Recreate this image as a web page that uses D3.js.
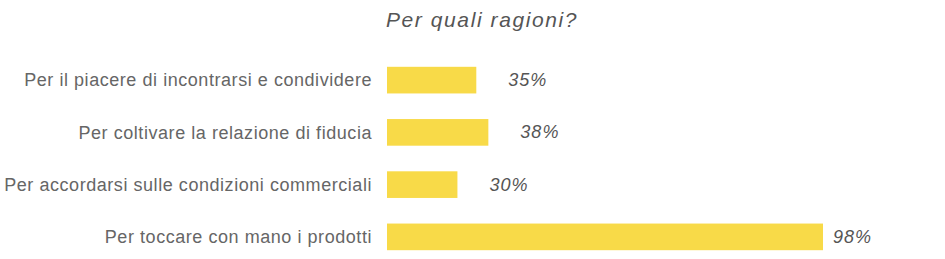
<!DOCTYPE html>
<html>
<head>
<meta charset="utf-8">
<script src="https://cdn.jsdelivr.net/npm/d3@7"></script>
<style>
	body { margin: 0; background: #fff; }
	text { font-family: "Liberation Sans", Arial, sans-serif; }
</style>
</head>
<body>
<div id="chart"></div>
<script>
var categories = [
	"Per il piacere di incontrarsi e condividere",
	"Per coltivare la relazione di fiducia",
	"Per accordarsi sulle condizioni commerciali",
	"Per toccare con mano i prodotti"
]
var values = [35, 38, 30, 98]
var valueLabels = ["35%", "38%", "30%", "98%"]
var title = "Per quali ragioni?"

var width = 945
var height = 259

var svg = d3.select("#chart")
	.append("svg")
	.attr("width", width)
	.attr("height", height)

// bars in the original are not drawn to a linear scale
var x = d3.scalePow()
	.exponent(1.54)
	.domain([0, 98])
	.range([0, 436])

var y = d3.scaleBand()
	.domain(categories)
	.range([54, 263])
	.paddingInner(0.49)
	.paddingOuter(0.245)

var barLeft = 387

svg.append("text")
	.attr("x", 482)
	.attr("y", 27)
	.attr("text-anchor", "middle")
	.style("font-style", "italic")
	.style("font-size", "21px")
	.style("letter-spacing", "1.6px")
	.style("fill", "#555")
	.text(title)

var rows = svg.selectAll(".row")
	.data(categories)
	.enter().append("g")
	.attr("class", "row")

rows.append("rect")
	.attr("x", barLeft)
	.attr("y", function(d) { return y(d) })
	.attr("width", function(d, i) { return x(values[i]) })
	.attr("height", y.bandwidth())
	.style("fill", "#F8DA48")

rows.append("text")
	.attr("x", 372)
	.attr("y", function(d) { return y(d) + y.bandwidth() / 2 })
	.attr("dy", "0.35em")
	.attr("text-anchor", "end")
	.style("font-size", "18px")
	.style("letter-spacing", "0.55px")
	.style("fill", "#666")
	.text(function(d) { return d })

rows.append("text")
	.attr("x", function(d, i) {
		var end = barLeft + x(values[i])
		return end + (values[i] > 90 ? 10 : 32)
	})
	.attr("y", function(d) { return y(d) + y.bandwidth() / 2 })
	.attr("dy", "0.33em")
	.style("font-style", "italic")
	.style("font-size", "18px")
	.style("letter-spacing", "1px")
	.style("fill", "#555")
	.text(function(d, i) { return valueLabels[i] })
</script>
</body>
</html>
